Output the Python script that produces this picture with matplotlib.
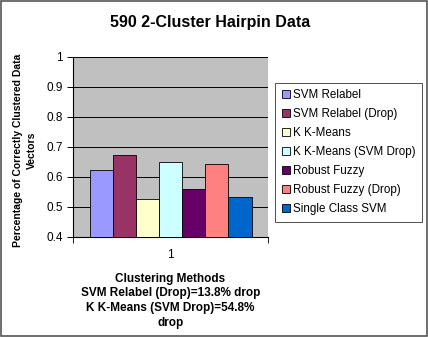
import matplotlib.pyplot as plt
from matplotlib.patches import Rectangle

plt.rcParams['font.family'] = ['Liberation Sans', 'DejaVu Sans']

methods = ['SVM Relabel', 'SVM Relabel (Drop)', 'K K-Means', 'K K-Means (SVM Drop)',
           'Robust Fuzzy', 'Robust Fuzzy (Drop)', 'Single Class SVM']
values = [0.622, 0.672, 0.527, 0.649, 0.561, 0.643, 0.533]
colors = ['#9999FF', '#993366', '#FFFFCC', '#CCFFFF', '#660066', '#FF8080', '#0066CC']
yticks = [0.4, 0.5, 0.6, 0.7, 0.8, 0.9, 1]

fig = plt.figure(figsize=(4.28, 3.37), dpi=100)
ax = fig.add_axes([0.1706, 0.297, 0.4556, 0.534])
ax.set_facecolor('#C0C0C0')

w = 0.1187
for i, (m, v, c) in enumerate(zip(methods, values, colors)):
    ax.bar(1 + (i - 3) * w, v - 0.4, width=w, bottom=0.4, color=c,
           edgecolor='black', linewidth=0.6, label=m, zorder=3)

ax.set_xlim(0.5, 1.5)
ax.set_ylim(0.4, 1.0)
ax.set_yticks(yticks)
ax.set_yticklabels(['0.4', '0.5', '0.6', '0.7', '0.8', '0.9', '1'], fontsize=8.5)
ax.yaxis.grid(True, color='black', linewidth=0.7, zorder=1)
ax.set_xticks([1])
ax.set_xticklabels(['1'], fontsize=8.5)
ax.tick_params(axis='x', length=0, pad=9)
ax.set_xticks([0.5, 1.5], minor=True)
ax.tick_params(axis='x', which='minor', length=4, direction='out')
ax.tick_params(axis='y', length=4, direction='out', width=0.7)
for s in ['top', 'right']:
    ax.spines[s].set_visible(False)
for s in ['left', 'bottom']:
    ax.spines[s].set_linewidth(0.8)

fig.text(0.49, 1 - 22 / 337, '590 2-Cluster Hairpin Data', fontsize=11.5,
         fontweight='bold', ha='center', va='center')
ax.set_ylabel('Percentage of Correctly Clustered Data\nVectors', fontsize=7.5,
              fontweight='bold', linespacing=1.5)
ax.yaxis.set_label_coords(-0.185, 0.48)
ax.set_xlabel('Clustering Methods\nSVM Relabel (Drop)=13.8% drop\nK K-Means (SVM Drop)=54.8%\ndrop',
              fontsize=8.5, fontweight='bold', labelpad=8, linespacing=1.3)

leg = fig.legend(loc='upper left', bbox_to_anchor=(0.643, 0.754), fontsize=8.4,
                 frameon=True, fancybox=False, handlelength=0.7, handleheight=0.7,
                 handletextpad=0.3, labelspacing=0.6, borderpad=0.55,
                 borderaxespad=0)
leg.get_frame().set_edgecolor('black')
leg.get_frame().set_linewidth(0.6)

fig.patches.append(Rectangle((0.003, 0.003), 0.994, 0.994, transform=fig.transFigure,
                             fill=False, edgecolor='#555555', linewidth=1.2))

fig.savefig('out.png', dpi=100)
